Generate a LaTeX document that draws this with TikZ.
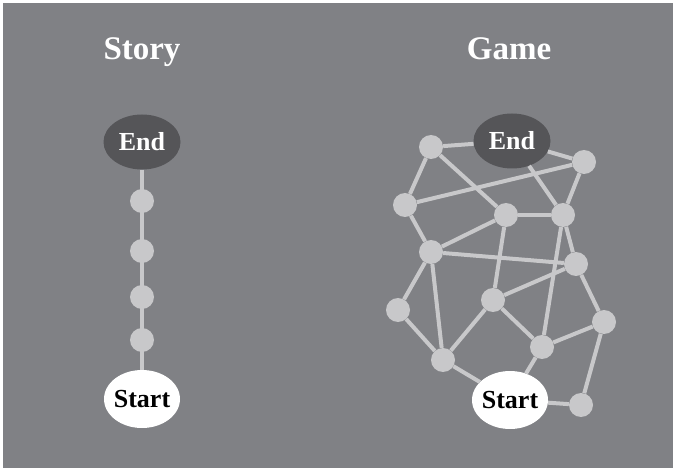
\documentclass[tikz,border=0pt]{standalone}
\usepackage{fontspec}
\setmainfont{Liberation Serif}
\usepackage{tikz}
\usetikzlibrary{shapes}
\definecolor{bg}{RGB}{128,129,133}
\definecolor{lt}{RGB}{200,200,202}
\definecolor{dk}{RGB}{85,85,88}

\begin{document}
\begin{tikzpicture}[x=1pt,y=-1pt,line join=bevel,
  dot/.style={circle,fill=lt,inner sep=0pt,minimum size=24pt},
  endn/.style={ellipse,fill=dk,text=white,inner sep=0pt,minimum width=77pt,minimum height=55pt,font=\bfseries\fontsize{26}{26}\selectfont},
  startn/.style={ellipse,fill=white,text=black,inner xsep=-3pt,inner ysep=0pt,minimum width=76pt,minimum height=58pt,font=\bfseries\fontsize{26}{26}\selectfont},
  ttl/.style={text=white,anchor=base,inner sep=0pt,font=\bfseries\fontsize{33}{33}\selectfont},
  ln/.style={draw=lt,line width=4pt}]
  \fill[white] (0,0) rectangle (673,468);
  \fill[bg] (3,3) rectangle (673,468);
  \useasboundingbox (0,0) rectangle (673,468);
  \node (story) at (142,60) [ttl] {Story};
  \node (game) at (509,60) [ttl] {Game};
  % story
  \node (se) at (142,142) [endn] {End};
  \node (ss) at (142,399) [startn] {Start};
  \draw [ln] (se) -- (ss);
  \node (s1) at (142,201) [dot] {}; \node (s2) at (142,251) [dot] {};
  \node (s3) at (142,297) [dot] {}; \node (s4) at (142,340) [dot] {};
  % game
  \node (g1) at (431,147) [dot] {}; \node (g2) at (584,162) [dot] {};
  \node (g3) at (405,205) [dot] {}; \node (g4) at (506,215) [dot] {};
  \node (g5) at (563,215) [dot] {}; \node (g6) at (431,252) [dot] {};
  \node (g7) at (576,264) [dot] {}; \node (g8) at (493,300) [dot] {};
  \node (g9) at (398,310) [dot] {}; \node (g10) at (604,322) [dot] {};
  \node (g11) at (542,347) [dot] {}; \node (g12) at (443,360) [dot] {};
  \node (g13) at (581,405) [dot] {};
  \draw [ln] (g1) -- (g3); \draw [ln] (g1) -- (g4);
  \draw [ln] (g3) -- (g2); \draw [ln] (g2) -- (g5);
  \draw [ln] (g4) -- (g5); \draw [ln] (g3) -- (g6);
  \draw [ln] (g6) -- (g4); \draw [ln] (g4) -- (g8);
  \draw [ln] (g6) -- (g7); \draw [ln] (g5) -- (g7);
  \draw [ln] (g5) -- (g11); \draw [ln] (g7) -- (g8);
  \draw [ln] (g7) -- (g10); \draw [ln] (g6) -- (g9);
  \draw [ln] (g6) -- (g12); \draw [ln] (g9) -- (g12);
  \draw [ln] (g8) -- (g12); \draw [ln] (g8) -- (g11);
  \draw [ln] (g11) -- (g10); \draw [ln] (g13) -- (g10);
  \node (ge) at (512,141) [endn] {End};
  \node (gs) at (510,400) [startn] {Start};
  \draw [ln] (g1) -- (ge); \draw [ln] (ge) -- (g2);
  \draw [ln] (ge) -- (g5); \draw [ln] (g11) -- (gs);
  \draw [ln] (g12) -- (gs); \draw [ln] (gs) -- (g13);
\end{tikzpicture}
\end{document}
